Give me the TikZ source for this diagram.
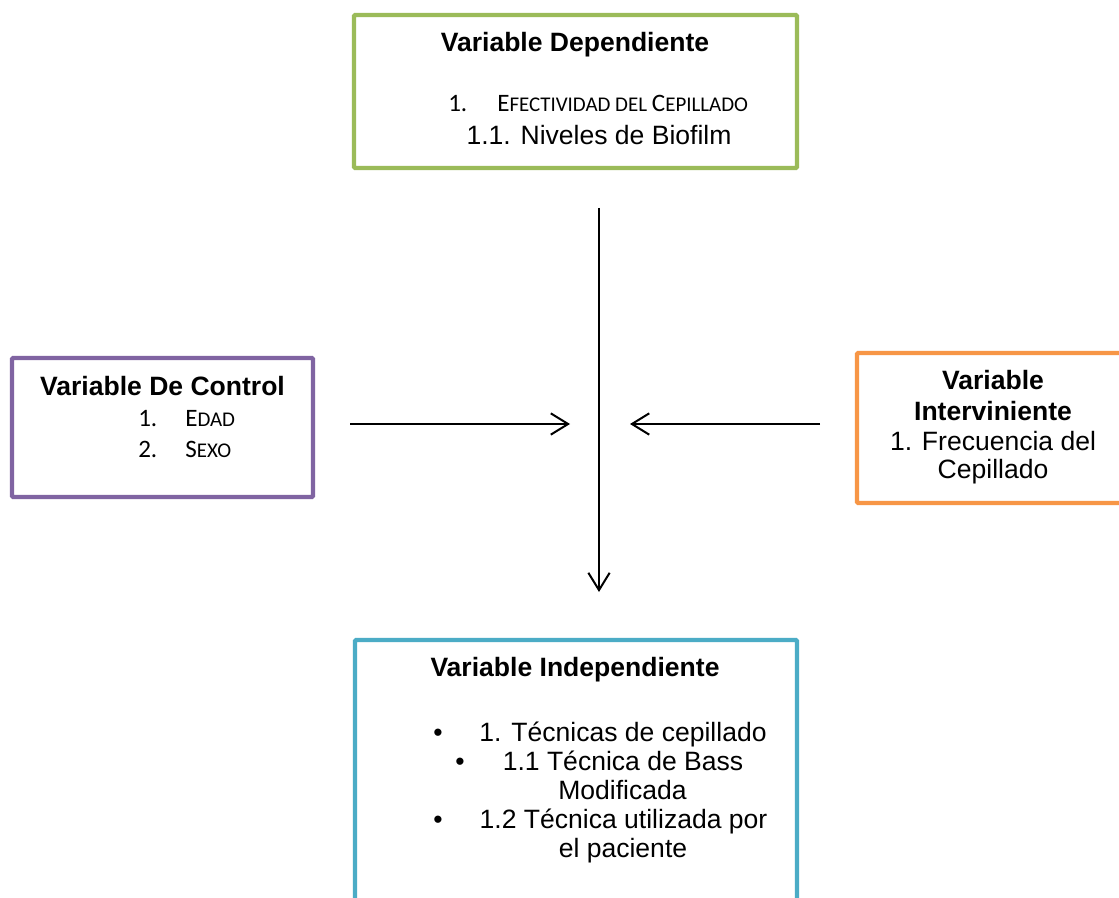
\documentclass[tikz,border=0pt]{standalone}
\usepackage{fontspec}
\setmainfont{Liberation Sans}
\newfontfamily\calibfont{Carlito}
\usetikzlibrary{arrows.meta}
\definecolor{cgreen}{HTML}{9BBB59}
\definecolor{cpurple}{HTML}{8064A2}
\definecolor{corange}{HTML}{F79646}
\definecolor{cblue}{HTML}{4BACC6}
\newcommand{\bigsc}{\calibfont\fontsize{18.8}{22}\selectfont}
\newcommand{\smallsc}{\calibfont\fontsize{15.7}{18}\selectfont}
\tikzset{
  varbox/.style={draw, line width=3.3pt, inner sep=0pt, rounded corners=1pt},
  txt/.style={inner sep=0pt, anchor=base, font=\fontsize{19.9}{24}\selectfont},
  ttl/.style={txt, font=\fontsize{19.9}{24}\selectfont\bfseries},
  lft/.style={inner sep=0pt, anchor=base west},
  conn/.style={line width=1.5pt, -{Straight Barb[length=13pt,width=16pt,line width=1.5pt]}},
  bul/.style={inner sep=0pt, anchor=base, font=\fontsize{19.9}{24}\selectfont}
}
\begin{document}
\begin{tikzpicture}[x=0.75pt,y=-0.75pt]
\useasboundingbox (0,0) rectangle (1119,898);
\clip (0,0) rectangle (1119,898);
\fill[white] (0,0) rectangle (1119,898);
% boxes
\node[varbox, draw=cgreen, minimum width=332.25pt, minimum height=114.75pt] (dep) at (575.5,91.5) {};
\node[varbox, draw=cpurple, minimum width=225.75pt, minimum height=104.25pt] (ctl) at (162.5,427.5) {};
\node[varbox, draw=corange, minimum width=204pt, minimum height=112.5pt] (itv) at (993,428) {};
\node[varbox, draw=cblue, minimum width=331.5pt, minimum height=210pt] (ind) at (576,780) {};
% dependiente
\node[ttl] (depT) at (575,52) {Variable Dependiente};
\node[lft] (depN1) at (448,112) {\bigsc 1.};
\node[lft] (depI1) at (497,112) {\bigsc E{\smallsc FECTIVIDAD DEL }C{\smallsc EPILLADO}};
\node[txt] (depI2) at (599,145) {1.1. Niveles de Biofilm};
% control
\node[ttl] (ctlT) at (162.5,395) {Variable De Control};
\node[lft] (ctlN1) at (138,426) {\bigsc 1.};
\node[lft] (ctlI1) at (185,426) {\bigsc E{\smallsc DAD}};
\node[lft] (ctlN2) at (138,457) {\bigsc 2.};
\node[lft] (ctlI2) at (185,457) {\bigsc S{\smallsc EXO}};
% interviniente
\node[ttl] (itvT1) at (993,389) {Variable};
\node[ttl] (itvT2) at (993,420) {Interviniente};
\node[txt] (itvI1) at (993,450) {1. Frecuencia del};
\node[txt] (itvI2) at (993,478) {Cepillado};
% independiente
\node[ttl] (indT) at (575,676) {Variable Independiente};
\node[bul] (b1) at (438,741) {•};
\node[txt] (i1) at (623,741) {1. Técnicas de cepillado};
\node[bul] (b2) at (460,770) {•};
\node[txt] (i2) at (623,770) {1.1 Técnica de Bass};
\node[txt] (i2b) at (622.5,799) {Modificada};
\node[bul] (b3) at (438,828) {•};
\node[txt] (i3) at (623.5,828) {1.2 Técnica utilizada por};
\node[txt] (i3b) at (623,857) {el paciente};
% connectors
\coordinate (vtop) at (599,208);
\coordinate (vbot) at (599,592);
\coordinate (lstart) at (350,424);
\coordinate (lend) at (570,424);
\coordinate (rstart) at (820,424);
\coordinate (rend) at (630,424);
\draw[conn] (vtop) -- (vbot);
\draw[conn] (lstart) -- (lend);
\draw[conn] (rstart) -- (rend);
\end{tikzpicture}
\end{document}
